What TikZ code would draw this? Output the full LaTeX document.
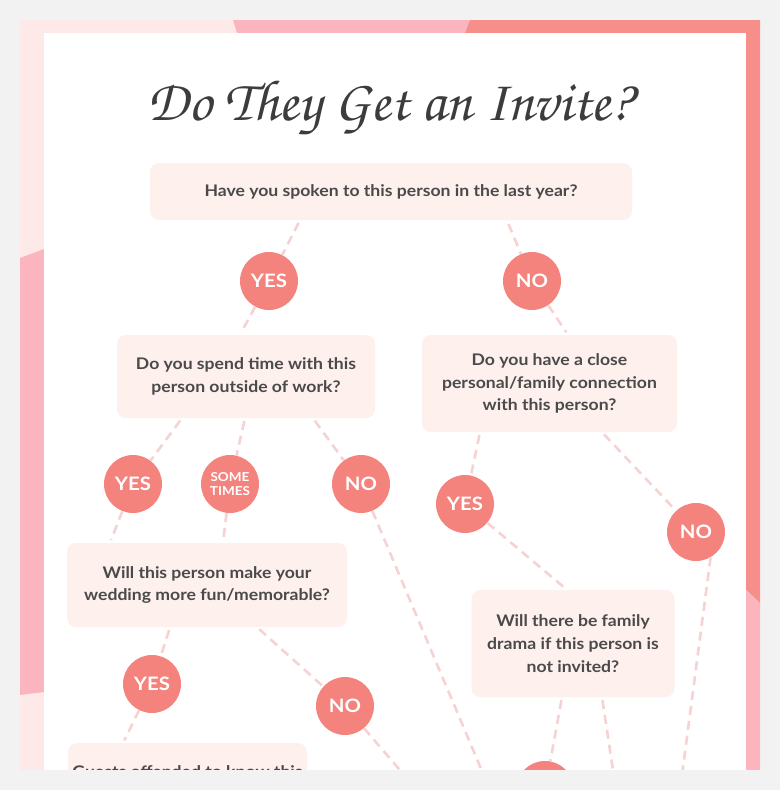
\documentclass[tikz,border=0pt]{standalone}
\usepackage{fontspec}
\setmainfont{Lato}[FakeStretch=1.1]
\newfontfamily\titlefont{TeX Gyre Chorus}
\usetikzlibrary{calc}
\definecolor{bggray}{HTML}{F2F2F2}
\definecolor{framelight}{HTML}{FDE9E7}
\definecolor{framepink}{HTML}{FBB5BE}
\definecolor{framesalmon}{HTML}{F68E8A}
\definecolor{circfill}{HTML}{F5837D}
\definecolor{boxfill}{HTML}{FDF0ED}
\definecolor{linkcol}{HTML}{F7D2D3}
\definecolor{txt}{HTML}{4A4A4A}
\definecolor{titlecol}{HTML}{3C3C3C}
\begin{document}
\begin{tikzpicture}[x=1pt,y=-1pt,
  qbox/.style={fill=boxfill, rounded corners=9pt, align=center, text=txt, inner sep=0pt,
    font=\bfseries\fontsize{16}{22.8}\selectfont},
  ans/.style={circle, fill=circfill, minimum size=58pt, inner sep=0pt, text=white,
    font=\bfseries\fontsize{18.5}{18.5}\selectfont},
  smallans/.style={ans, align=center, font=\bfseries\fontsize{12.3}{13.5}\selectfont},
  link/.style={draw=linkcol, line width=2.6pt, dash pattern=on 9pt off 6pt}
]
\useasboundingbox (0,0) rectangle (780,790);
\fill[bggray] (0,0) rectangle (780,790);
% frame
\fill[framelight] (20,20) rectangle (44,770);
\fill[framepink] (20,258) -- (44,249) -- (44,692) -- (20,695) -- cycle;
\fill[framelight] (20,20) -- (233,20) -- (237,33) -- (20,33) -- cycle;
\fill[framepink] (233,20) -- (470,20) -- (465,33) -- (237,33) -- cycle;
\fill[framesalmon] (470,20) -- (760,20) -- (760,603) -- (746,590) -- (746,33) -- (465,33) -- cycle;
\fill[framepink] (746,590) -- (760,603) -- (760,770) -- (746,770) -- cycle;
\fill[white] (44,33) rectangle (746,770);
% title
\node[text=titlecol, font=\titlefont\fontsize{58}{58}\selectfont] (title) at (390,108) {Do They Get an Invite?};
% questions
\node[qbox, minimum width=482pt, minimum height=57pt] (q1) at (391,191.5) {Have you spoken to this person in the last year?};
\node[qbox, minimum width=258pt, minimum height=83pt] (q2) at (246,376.5) {Do you spend time with this\\person outside of work?};
\node[qbox, minimum width=255pt, minimum height=97pt] (q3) at (549.5,383.5) {Do you have a close\\personal/family connection\\with this person?};
\node[qbox, minimum width=280pt, minimum height=84pt] (q4) at (207,585) {Will this person make your\\wedding more fun/memorable?};
\node[qbox, minimum width=203pt, minimum height=107pt] (q5) at (573,643.5) {Will there be family\\drama if this person is\\not invited?};
\node[qbox, anchor=north, minimum width=239pt, inner ysep=23pt, text height=11pt] (q6) at (187.5,743) {Guests offended to know this};
% answers
\node[ans] (a1) at (269,281) {YES};
\node[ans] (a2) at (532,281) {NO};
\node[ans] (a3) at (133,484) {YES};
\node[smallans] (a4) at (230,484) {SOME\\TIMES};
\node[ans] (a5) at (361,484) {NO};
\node[ans] (a6) at (465,504) {YES};
\node[ans] (a7) at (696,532) {NO};
\node[ans] (a8) at (152,684) {YES};
\node[ans] (a9) at (345,706) {NO};
\node[ans] (a10) at (545,790) {};
\coordinate (e1) at (490,790);
\coordinate (e2) at (680,790);
\coordinate (e3) at (417,790);
\coordinate (e4) at (616,790);
% links
\draw[link, shorten <=3pt] ([xshift=-91pt]q1.south) -- (a1);
\draw[link, shorten <=4pt] ([xshift=116pt]q1.south) -- (a2);
\draw[link, shorten >=3pt] (a1) -- ([xshift=-6pt]q2.north);
\draw[link, shorten >=3pt] (a2) -- ([xshift=18.5pt]q3.north);
\draw[link, shorten <=3pt] ([xshift=-64pt]q2.south) -- (a3);
\draw[link, shorten <=3pt] ([xshift=-1pt]q2.south) -- (a4);
\draw[link, shorten <=3pt] ([xshift=67pt]q2.south) -- (a5);
\draw[link, shorten >=3pt] (a3) -- ([xshift=-97pt]q4.north);
\draw[link, shorten >=3pt] (a4) -- ([xshift=16pt]q4.north);
\draw[link] (a5) -- (e1);
\draw[link, shorten <=3pt] ([xshift=-69.5pt]q3.south) -- (a6);
\draw[link, shorten <=3pt] ([xshift=52.5pt]q3.south) -- (a7);
\draw[link, shorten >=3pt] (a6) -- ([xshift=-6pt]q5.north);
\draw[link] (a7.-60) -- (e2);
\draw[link, shorten <=3pt] ([xshift=-37pt]q4.south) -- (a8);
\draw[link, shorten <=3pt] ([xshift=50pt]q4.south) -- (a9);
\draw[link, shorten >=3pt] (a8) -- ([xshift=-64.5pt]q6.north);
\draw[link] (a9) -- (e3);
\draw[link, shorten <=3pt] ([xshift=-11pt]q5.south) -- (a10);
\draw[link, shorten <=3pt] ([xshift=29pt]q5.south) -- (e4);
% bottom cut
\fill[bggray] (0,770) rectangle (780,790);
\end{tikzpicture}
\end{document}
